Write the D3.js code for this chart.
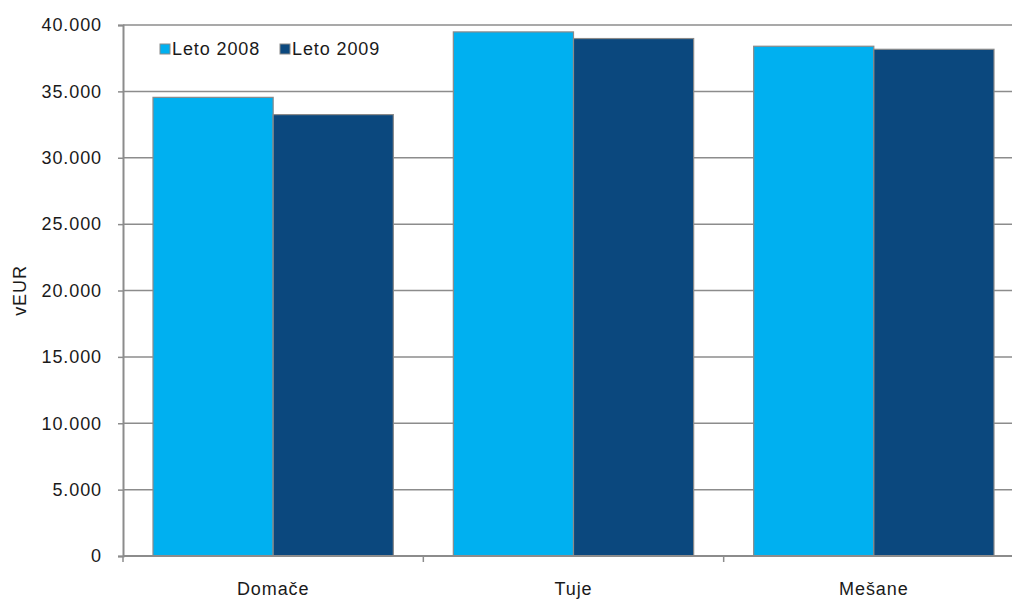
<!DOCTYPE html>
<html>
<head>
<meta charset="utf-8">
<script src="https://cdn.jsdelivr.net/npm/d3@7"></script>
<style>
  html, body { margin: 0; padding: 0; background: #fff; }
  svg { display: block; font-family: "Liberation Sans", Arial, sans-serif; }
  text { letter-spacing: 0.9px; }
</style>
</head>
<body>
<svg id="chart" width="1012" height="599"></svg>
<script>
const categories = ["Domače", "Tuje", "Mešane"];
const seriesNames = ["Leto 2008", "Leto 2009"];
const values2008 = [34550, 39480, 38400];
const values2009 = [33250, 38980, 38170];
const yTicks = [0, 5000, 10000, 15000, 20000, 25000, 30000, 35000, 40000];
const colors = ["#00B0F0", "#0B487E"];

(function () {
const svg = d3.select("#chart");
const pLeft = 123, pRight = 1024, pTop = 25, pBottom = 556;

const x = d3.scaleBand().domain(categories).range([pLeft, pRight]).padding(0);
const xs = d3.scaleBand().domain(seriesNames).range([30, x.bandwidth() - 30]).padding(0);
const y = d3.scaleLinear().domain([0, 40000]).range([pBottom, pTop]);

const fmt = v => d3.format(",")(v).replace(/,/g, ".");

// gridlines
svg.append("g").selectAll("line").data(yTicks.filter(t => t > 0)).join("line")
  .attr("x1", pLeft).attr("x2", pRight)
  .attr("y1", d => y(d)).attr("y2", d => y(d))
  .attr("stroke", "#8c8c8c").attr("stroke-width", 1.5);

// bars
const data = categories.map((c, i) => ({cat: c, vals: [values2008[i], values2009[i]]}));
const g = svg.append("g").selectAll("g").data(data).join("g")
  .attr("transform", d => `translate(${x(d.cat)},0)`);
g.selectAll("rect").data(d => d.vals.map((v, j) => ({s: seriesNames[j], v, j}))).join("rect")
  .attr("x", d => xs(d.s)).attr("width", xs.bandwidth())
  .attr("y", d => y(d.v)).attr("height", d => y(0) - y(d.v))
  .attr("fill", d => colors[d.j])
  .attr("stroke", "#8a8a8a").attr("stroke-width", 1.2);

// y axis
const yAxis = svg.append("g").attr("transform", `translate(${pLeft},0)`)
  .call(d3.axisLeft(y).tickValues(yTicks).tickFormat(fmt).tickSize(5).tickPadding(16));
yAxis.select(".domain").attr("stroke", "#8c8c8c").attr("stroke-width", 2);
yAxis.selectAll(".tick line").attr("stroke", "#8c8c8c").attr("stroke-width", 1.5);
yAxis.selectAll(".tick text").attr("font-size", 18).attr("fill", "#1a1a1a")
  .attr("font-family", "Liberation Sans, Arial, sans-serif");

// x axis
const xAxis = svg.append("g").attr("transform", `translate(0,${pBottom})`)
  .call(d3.axisBottom(x).tickSize(0).tickPadding(26));
xAxis.select(".domain").remove();
xAxis.selectAll(".tick text").attr("font-size", 18).attr("fill", "#1a1a1a")
  .attr("font-family", "Liberation Sans, Arial, sans-serif");
svg.append("line").attr("x1", pLeft).attr("x2", pRight).attr("y1", pBottom).attr("y2", pBottom)
  .attr("stroke", "#8c8c8c").attr("stroke-width", 2);
svg.append("g").selectAll("line").data(categories.concat(["__end"])).join("line")
  .attr("x1", (d, i) => pLeft + i * x.bandwidth()).attr("x2", (d, i) => pLeft + i * x.bandwidth())
  .attr("y1", pBottom).attr("y2", pBottom + 6)
  .attr("stroke", "#8c8c8c").attr("stroke-width", 1.5);

// y label
svg.append("text").attr("transform", `translate(26,${(pTop + pBottom) / 2}) rotate(-90)`)
  .attr("text-anchor", "middle").attr("font-size", 18).attr("fill", "#1a1a1a").text("vEUR");

// legend
const legendX = [160, 280];
const lg = svg.append("g").selectAll("g").data(seriesNames).join("g")
  .attr("transform", (d, i) => `translate(${legendX[i]},44)`);
lg.append("rect").attr("width", 10).attr("height", 10)
  .attr("fill", (d, i) => colors[i]).attr("stroke", "#8a8a8a").attr("stroke-width", 1);
lg.append("text").attr("x", 12).attr("y", 11).attr("font-size", 18).attr("fill", "#1a1a1a").text(d => d);
})();
</script>
</body>
</html>
